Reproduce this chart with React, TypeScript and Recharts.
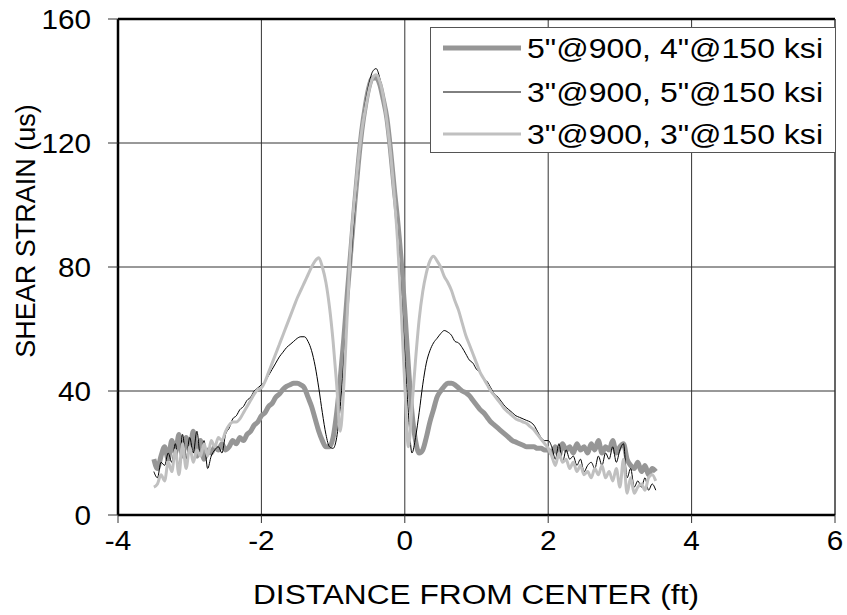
import React from 'react';
import { LineChart, Line, XAxis, YAxis, CartesianGrid, ReferenceLine, Legend, Label } from 'recharts';

// distance from center (ft)
const X_FT = [
  -3.5, -3.45, -3.4, -3.35, -3.3, -3.25, -3.2, -3.15, -3.1, -3.05,
  -3.0, -2.95, -2.9, -2.85, -2.8, -2.75, -2.7, -2.65, -2.6, -2.55,
  -2.5, -2.45, -2.4, -2.35, -2.3, -2.25, -2.2, -2.15, -2.1, -2.05,
  -2.0, -1.95, -1.9, -1.85, -1.8, -1.75, -1.7, -1.65, -1.6, -1.55,
  -1.5, -1.45, -1.4, -1.35, -1.3, -1.25, -1.2, -1.15, -1.1, -1.05,
  -1.0, -0.95, -0.9, -0.85, -0.8, -0.75, -0.7, -0.65, -0.6, -0.55,
  -0.5, -0.45, -0.4, -0.35, -0.3, -0.25, -0.2, -0.15, -0.1, -0.05,
  0.0, 0.05, 0.1, 0.15, 0.2, 0.25, 0.3, 0.35, 0.4, 0.45,
  0.5, 0.55, 0.6, 0.65, 0.7, 0.75, 0.8, 0.85, 0.9, 0.95,
  1.0, 1.05, 1.1, 1.15, 1.2, 1.25, 1.3, 1.35, 1.4, 1.45,
  1.5, 1.55, 1.6, 1.65, 1.7, 1.75, 1.8, 1.85, 1.9, 1.95,
  2.0, 2.05, 2.1, 2.15, 2.2, 2.25, 2.3, 2.35, 2.4, 2.45,
  2.5, 2.55, 2.6, 2.65, 2.7, 2.75, 2.8, 2.85, 2.9, 2.95,
  3.0, 3.05, 3.1, 3.15, 3.2, 3.25, 3.3, 3.35, 3.4, 3.45, 3.5,
];

// 5"@900, 4"@150 ksi
const STRAIN_A = [
  18, 15, 19, 22, 18, 24, 20, 26, 19, 25,
  21, 27, 19, 24, 18, 21, 20, 22, 21, 23,
  21, 22, 24, 23, 25, 24, 26, 27, 29, 30,
  32, 33, 35, 36, 38, 39, 40.5, 41.5, 42, 42.5,
  42.5, 42, 41, 38, 35, 31, 27, 24, 22, 22,
  25, 33, 44, 57, 72, 86, 100, 113, 124, 132,
  138, 141, 141, 139, 134, 128, 118, 106, 95, 82,
  66, 48, 33, 24, 20, 21, 25, 30, 34, 38,
  40, 41.5, 42.5, 42.5, 42, 41, 40, 39.5, 38.5, 37,
  35.5, 34, 33, 31.5, 30, 29, 28, 27, 26, 25,
  24, 23.5, 23, 22.5, 22, 22, 22, 21.5, 21.5, 21,
  21, 20, 22, 19, 23, 21, 22, 20, 23, 21,
  22, 20, 23, 21, 24, 20, 22, 21, 24, 20,
  22, 23, 18, 16, 15, 17, 14, 16, 13, 15, 14,
];

// 3"@900, 5"@150 ksi
const STRAIN_B = [
  14, 12, 17, 16, 20, 17, 23, 15, 26, 18,
  25, 20, 27, 19, 24, 15, 19, 21, 22, 20,
  26, 28, 31, 32, 34, 35, 37, 38, 40, 41,
  42, 43, 45, 47, 49, 51, 52.5, 54, 55, 56,
  57, 57.5, 57.5, 56, 53, 48, 41, 33, 26, 22,
  21.5, 25, 35, 50, 66, 82, 98, 112, 124, 133,
  139, 143, 144, 141, 135, 127, 117, 105, 92, 72,
  52, 33, 20, 25, 33, 42, 49, 53, 55.5, 57,
  58.5, 59.5, 59, 58, 56, 55.5, 54, 52, 50, 49,
  47, 46, 44, 43, 41, 39, 38, 36.5, 35, 34,
  33, 32, 31.5, 31, 30.5, 30, 29, 27, 25, 24,
  24, 22, 18, 23, 17, 21, 18, 19, 16, 18,
  14, 16, 17, 15, 19, 16, 20, 18, 22, 17,
  21, 23, 12, 15, 9, 11, 9, 12, 8, 10, 8,
];

// 3"@900, 3"@150 ksi
const STRAIN_C = [
  9, 10, 13, 11, 17, 14, 21, 13, 23, 15,
  22, 17, 21, 19, 23, 19, 24, 22, 25, 24,
  27, 29, 30, 30, 31, 33, 35, 37, 39, 40.5,
  41, 43, 46, 49, 52, 55, 58, 61, 64, 67,
  70, 72.5, 75, 77.5, 80, 82, 83, 80, 75, 67,
  56, 42, 27, 42, 66, 88, 102, 114, 124, 131,
  137, 141, 142, 140, 135, 127, 117, 104, 88, 66,
  42, 22, 35, 50, 63, 72, 78, 82, 83.5, 82,
  80, 77, 75, 72.5, 69, 66, 62, 58, 55, 52,
  49, 46, 44, 42, 40, 38.5, 37, 35.5, 34, 33,
  32, 31, 30.5, 30, 29.5, 28.5, 27.5, 26, 24.5, 23,
  21.5, 19, 16, 20, 17, 18, 15, 17, 14, 16,
  13, 14, 12, 15, 13, 16, 12, 14, 11, 15,
  9, 18, 7, 12, 7, 9, 10, 8, 12, 13, 11,
];

const SERIES_NAMES = ['5"@900, 4"@150 ksi', '3"@900, 5"@150 ksi', '3"@900, 3"@150 ksi'];
const X_TICKS = [-4, -2, 0, 2, 4, 6];
const Y_TICKS = [0, 40, 80, 120, 160];

const FONT = '"Liberation Sans", Arial, Helvetica, sans-serif';
const COLORS = ['#969696', '#000000', '#c0c0c0'];
const WIDTHS = [5, 1, 3];

const data = X_FT.map((x, i) => ({ x, a: STRAIN_A[i], b: STRAIN_B[i], c: STRAIN_C[i] }));

const YTick = ({ x, y, payload }: any) => (
  <text x={x} y={y} dy="0.355em" textAnchor="end" fontSize={27} fontFamily={FONT} fill="#000"
    transform={`translate(${x} 0) scale(1.1 1) translate(${-x} 0)`}>
    {payload.value}
  </text>
);

const XTick = ({ x, y, payload }: any) => (
  <text x={x} y={y} dy="0.71em" textAnchor="middle" fontSize={27} fontFamily={FONT} fill="#000"
    transform={`translate(${x} 0) scale(1.1 1) translate(${-x} 0)`}>
    {payload.value}
  </text>
);

const rowY = [21, 65, 107];

const renderLegend = () => (
  <svg width={406} height={126} style={{ display: 'block' }}>
    <rect x={0.5} y={0.5} width={405} height={125} fill="#fff" stroke="#555" />
    {SERIES_NAMES.map((name, i) => (
      <g key={name}>
        <line x1={13} x2={91} y1={rowY[i]} y2={rowY[i]} stroke={COLORS[i]} strokeWidth={WIDTHS[i]} />
        <text x={97} y={rowY[i] + 10} fontSize={27} fontFamily={FONT} fill="#000"
          textLength={296} lengthAdjust="spacingAndGlyphs">
          {name}
        </text>
      </g>
    ))}
  </svg>
);

export default function App() {
  return (
    <div style={{ position: 'absolute', left: 0, top: 0, width: 847, height: 615, background: '#fff' }}>
      <LineChart width={847} height={615} data={data} margin={{ top: 19, right: 12, bottom: 40, left: 0 }}>
        <CartesianGrid stroke="#333" strokeWidth={1} />
        <XAxis dataKey="x" type="number" domain={[-4, 6]} ticks={X_TICKS} interval={0}
          allowDataOverflow height={60} tickSize={8} tickMargin={8}
          tickLine={{ stroke: '#333' }} axisLine={{ stroke: '#000', strokeWidth: 2.5 }} tick={<XTick />}>
          <Label content={() => (
            <text x={476} y={604} textAnchor="middle" fontSize={27} fontFamily={FONT} fill="#000"
              textLength={446} lengthAdjust="spacingAndGlyphs">
              DISTANCE FROM CENTER (ft)
            </text>
          )} />
        </XAxis>
        <YAxis type="number" domain={[0, 160]} ticks={Y_TICKS} interval={0} width={118}
          tickSize={10} tickMargin={17} tickLine={{ stroke: '#333' }}
          axisLine={{ stroke: '#000', strokeWidth: 2.5 }} tick={<YTick />}>
          <Label content={() => (
            <text x={0} y={0} transform="translate(35 231) rotate(-90)" textAnchor="middle"
              fontSize={27} fontFamily={FONT} fill="#000">
              SHEAR STRAIN (us)
            </text>
          )} />
        </YAxis>
        <ReferenceLine y={160} stroke="#000" strokeWidth={2.5} />
        <ReferenceLine x={6} stroke="#333" strokeWidth={1} />
        <Line type="monotone" dataKey="a" name={SERIES_NAMES[0]} stroke={COLORS[0]} strokeWidth={WIDTHS[0]}
          dot={false} activeDot={false} isAnimationActive={false} strokeLinejoin="round" />
        <Line type="monotone" dataKey="b" name={SERIES_NAMES[1]} stroke={COLORS[1]} strokeWidth={WIDTHS[1]}
          dot={false} activeDot={false} isAnimationActive={false} strokeLinejoin="round" />
        <Line type="monotone" dataKey="c" name={SERIES_NAMES[2]} stroke={COLORS[2]} strokeWidth={WIDTHS[2]}
          dot={false} activeDot={false} isAnimationActive={false} strokeLinejoin="round" />
        <Legend layout="vertical" align="center" verticalAlign="middle" content={renderLegend}
          wrapperStyle={{ position: 'absolute', left: 430, top: 27, width: 406, height: 126 }} />
      </LineChart>
    </div>
  );
}
